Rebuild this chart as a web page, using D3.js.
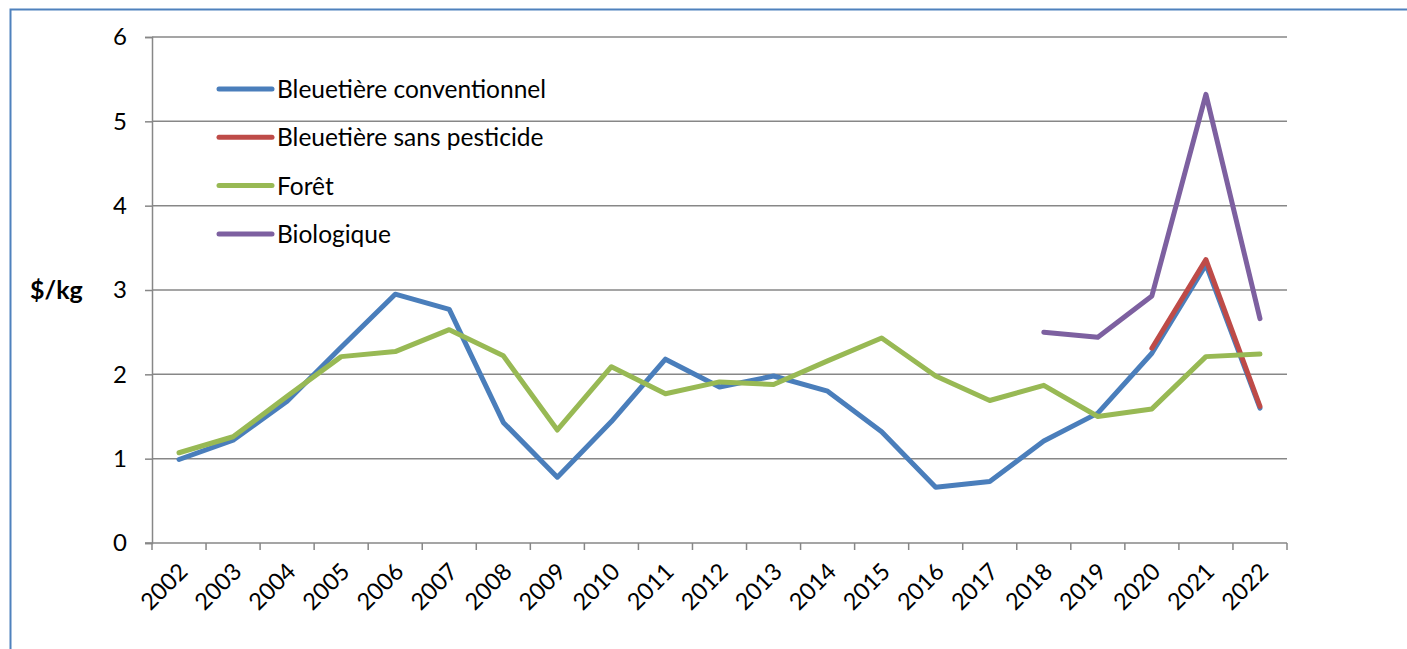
<!DOCTYPE html>
<html>
<head>
<meta charset="utf-8">
<script src="https://cdn.jsdelivr.net/npm/d3@7"></script>
<style>
  html, body { margin: 0; padding: 0; background: #fff; }
  svg { display: block; }
</style>
</head>
<body>
<svg id="chart" width="1407" height="649"></svg>
<script>
// years on the x axis
const years = d3.range(2002, 2023).map(String);

// $/kg (null = no value that year)
const conventionnel = [0.99, 1.22, 1.68, 2.32, 2.95, 2.77, 1.43, 0.78, 1.44, 2.18, 1.85,
                       1.98, 1.80, 1.32, 0.66, 0.73, 1.21, 1.54, 2.25, 3.30, 1.60];
const sansPesticide = [null, null, null, null, null, null, null, null, null, null, null,
                       null, null, null, null, null, null, null, 2.31, 3.36, 1.62];
const foret = [1.07, 1.26, 1.74, 2.21, 2.27, 2.53, 2.22, 1.34, 2.09, 1.77, 1.91,
               1.88, 2.16, 2.43, 1.98, 1.69, 1.87, 1.50, 1.59, 2.21, 2.24];
const biologique = [null, null, null, null, null, null, null, null, null, null, null,
                    null, null, null, null, null, 2.50, 2.44, 2.93, 5.32, 2.66];

const yTicks = [0, 1, 2, 3, 4, 5, 6];

const series = [
    { name: "Bleuetière conventionnel", values: conventionnel, color: "#4a7ebb" },
    { name: "Bleuetière sans pesticide", values: sansPesticide, color: "#be4b48" },
    { name: "Forêt", values: foret, color: "#98b954" },
    { name: "Biologique", values: biologique, color: "#7d60a0" }
];

const FONT = "Lato, 'Open Sans', sans-serif";
const GRID = "#878787";

const svg = d3.select("#chart");

// outer frame
svg.append("rect")
    .attr("x", 10.5).attr("y", 9.5)
    .attr("width", 1420).attr("height", 680)
    .attr("fill", "none")
    .attr("stroke", "#4f81bd")
    .attr("stroke-width", 2);

const plot = { left: 152, right: 1287, top: 37, bottom: 543 };

const x = d3.scaleBand().domain(years).range([plot.left, plot.right]).padding(0);
const xEdge = d3.scaleLinear().domain([0, years.length]).range([plot.left, plot.right]);
const y = d3.scaleLinear().domain([0, 6]).range([plot.bottom, plot.top]);

// horizontal gridlines
svg.append("g")
    .selectAll("line")
    .data(yTicks.filter(d => d > 0))
    .join("line")
    .attr("x1", plot.left).attr("x2", plot.right)
    .attr("y1", d => y(d)).attr("y2", d => y(d))
    .attr("stroke", GRID)
    .attr("stroke-width", 1.5);

// y axis
const yAxis = svg.append("g")
    .attr("transform", `translate(${plot.left},0)`)
    .call(d3.axisLeft(y).tickValues(yTicks).tickSize(7).tickPadding(18).tickFormat(d3.format("d")));
yAxis.select(".domain").attr("stroke", GRID).attr("stroke-width", 1.5);
yAxis.selectAll(".tick line").attr("stroke", GRID).attr("stroke-width", 1.5);
yAxis.selectAll(".tick text")
    .attr("font-family", FONT).attr("font-size", 24).attr("fill", "#000");

// x axis baseline and boundary ticks
const xAxis = svg.append("g");
xAxis.append("line")
    .attr("x1", plot.left - 7).attr("x2", plot.right)
    .attr("y1", plot.bottom).attr("y2", plot.bottom)
    .attr("stroke", GRID).attr("stroke-width", 1.5);
xAxis.selectAll("line.tick")
    .data(d3.range(years.length + 1))
    .join("line")
    .attr("class", "tick")
    .attr("x1", d => xEdge(d)).attr("x2", d => xEdge(d))
    .attr("y1", plot.bottom).attr("y2", plot.bottom + 7)
    .attr("stroke", GRID).attr("stroke-width", 1.5);
xAxis.selectAll("text")
    .data(years)
    .join("text")
    .attr("transform", d => `translate(${x(d) + x.bandwidth() / 2 + 10},${plot.bottom + 30}) rotate(-45)`)
    .attr("text-anchor", "end")
    .attr("font-family", FONT)
    .attr("font-size", 23.5)
    .attr("fill", "#000")
    .text(d => d);

// y title
svg.append("text")
    .attr("x", 30).attr("y", 299)
    .attr("font-family", FONT)
    .attr("font-size", 25)
    .attr("font-weight", "bold")
    .attr("fill", "#000")
    .text("$/kg");

// lines
const line = d3.line()
    .defined(d => d != null)
    .x((d, i) => x(years[i]) + x.bandwidth() / 2)
    .y(d => y(d));

svg.append("g")
    .selectAll("path")
    .data(series)
    .join("path")
    .attr("d", d => line(d.values))
    .attr("fill", "none")
    .attr("stroke", d => d.color)
    .attr("stroke-width", 5)
    .attr("stroke-linejoin", "round")
    .attr("stroke-linecap", "round");

// legend
const legend = svg.append("g");
const lg = legend.selectAll("g")
    .data(series)
    .join("g")
    .attr("transform", (d, i) => `translate(219,${89 + i * 48.3})`);
lg.append("line")
    .attr("x1", 0).attr("x2", 53)
    .attr("stroke", d => d.color)
    .attr("stroke-width", 5)
    .attr("stroke-linecap", "round");
lg.append("text")
    .attr("x", 58).attr("y", 9)
    .attr("font-family", FONT)
    .attr("font-size", 24.5)
    .attr("fill", "#000")
    .text(d => d.name);
</script>
</body>
</html>
